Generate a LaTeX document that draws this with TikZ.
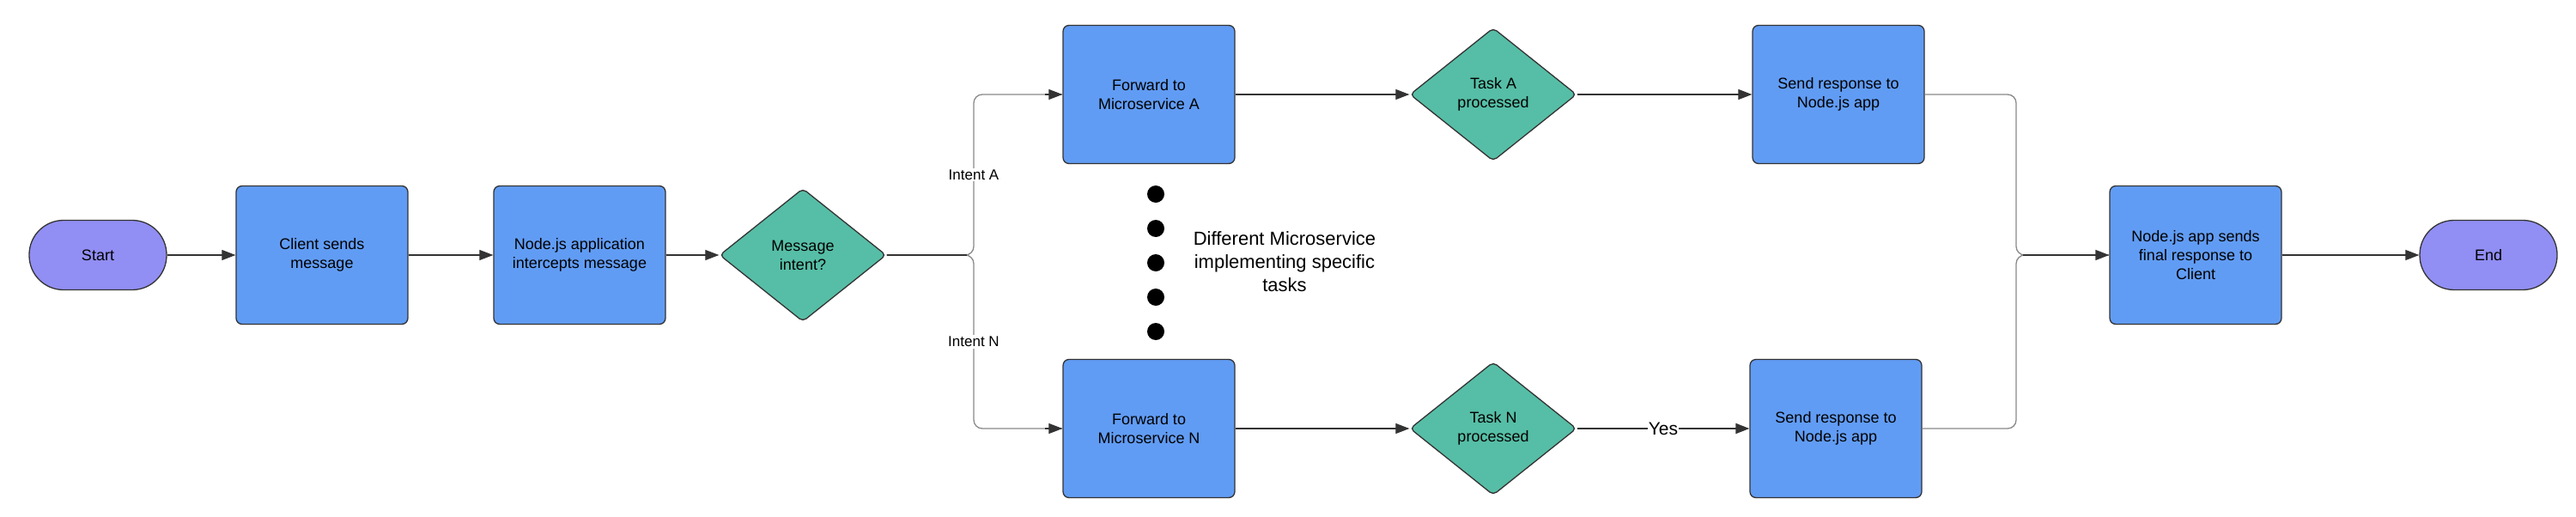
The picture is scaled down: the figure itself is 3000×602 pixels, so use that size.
\documentclass[tikz,border=0pt]{standalone}
\usepackage{fontspec}
\setmainfont{Liberation Sans}
\usetikzlibrary{arrows.meta, calc, positioning, shapes.geometric}

\definecolor{termfill}{HTML}{918EF4}
\definecolor{stepfill}{HTML}{619CF4}
\definecolor{choicefill}{HTML}{56BEA6}
\definecolor{darkline}{HTML}{333333}
\definecolor{lightline}{HTML}{888888}

\begin{document}
\begin{tikzpicture}[x=1pt,y=1pt,-,>={Triangle[length=16pt,width=12pt]},
  node distance=300pt,
  term node/.style={rectangle,rounded corners=40pt,draw=darkline,line width=1.3pt,
    fill=termfill,minimum width=160pt,minimum height=81pt,font=\fontsize{18}{22}\selectfont},
  step node/.style={rectangle,rounded corners=7pt,draw=darkline,line width=1.3pt,
    fill=stepfill,minimum width=200pt,minimum height=161pt,align=center,
    font=\fontsize{18}{22}\selectfont},
  choice node/.style={diamond,rounded corners=5pt,draw=darkline,line width=1.3pt,
    fill=choicefill,minimum width=194pt,minimum height=155pt,inner sep=0pt,align=center,
    font=\fontsize{18}{22}\selectfont},
  flow/.style={->,draw=darkline,line width=1.1pt},
  trunk/.style={draw=darkline,line width=1.3pt},
  branch/.style={draw=lightline,line width=1.3pt,rounded corners=10pt}]

  \useasboundingbox (0,0) rectangle (3000,-602);

  \node[term node] (start) at (114,-297) {Start};
  \node[step node] (client) [right of=start, node distance=261pt] {Client sends\\message};
  \node[step node] (intercept) [right of=client] {Node.js application\\intercepts message};
  \node[choice node] (intent) [right of=intercept, node distance=260pt] {Message\\intent?};

  \node[step node] (fwdA) at (1338,-110) {Forward to\\Microservice A};
  \node[step node] (fwdN) [below of=fwdA, node distance=389pt] {Forward to\\Microservice N};
  \node[choice node] (taskA) [right of=fwdA, node distance=401pt] {Task A\\processed};
  \node[choice node] (taskN) [right of=fwdN, node distance=401pt] {Task N\\processed};
  \node[step node] (sendA) [right of=taskA, node distance=402pt] {Send response to\\Node.js app};
  \node[step node] (sendN) [right of=taskN, node distance=399pt] {Send response to\\Node.js app};

  \node[step node] (final) at (2557,-297) {Node.js app sends\\final response to\\Client};
  \node[term node] (end) [right of=final, node distance=341pt] {End};

  % the dots between the two microservices
  \foreach \k in {0,...,4}
    \fill (1346,-226-40*\k) circle (10);
  \node[align=center,font=\fontsize{22}{27}\selectfont] (note) at (1496,-305)
    {Different Microservice\\implementing specific\\tasks};

  \coordinate (split) at (1134,-297);
  \coordinate (merge) at (2348,-297);

  \draw[flow] (start) -- (client);
  \draw[flow] (client) -- (intercept);

  \draw[branch] (intent.east) -- (split) |- (fwdA.west);
  \draw[branch] (intent.east) -- (split) |- (fwdN.west);
  \draw[trunk, shorten >=8pt] (intent.east) -- (split);
  \draw[flow] (intercept) -- (intent);
  \path (split) |- node[pos=0.25,fill=white,inner sep=2pt,font=\fontsize{17}{20}\selectfont] {Intent A} (fwdA.west);
  \path (split) |- node[pos=0.25,fill=white,inner sep=2pt,font=\fontsize{17}{20}\selectfont] {Intent N} (fwdN.west);
  \draw[flow] ($(fwdA.west)+(-20,0)$) -- (fwdA.west);
  \draw[flow] ($(fwdN.west)+(-20,0)$) -- (fwdN.west);

  \draw[flow] (fwdA) -- (taskA);
  \draw[flow] (fwdN) -- (taskN);
  \draw[flow] (taskA) -- (sendA);
  \draw[flow, line width=1.8pt] (taskN) -- node[fill=white,inner sep=1pt,font=\fontsize{21}{24}\selectfont] {Yes} (sendN);

  \draw[branch] (sendA.east) -| (merge) -- (final.west);
  \draw[branch] (sendN.east) -| (merge) -- (final.west);
  \draw[flow, line width=1.3pt, shorten <=8pt] (merge) -- (final);
  \draw[flow] (final) -- (end);
\end{tikzpicture}
\end{document}
